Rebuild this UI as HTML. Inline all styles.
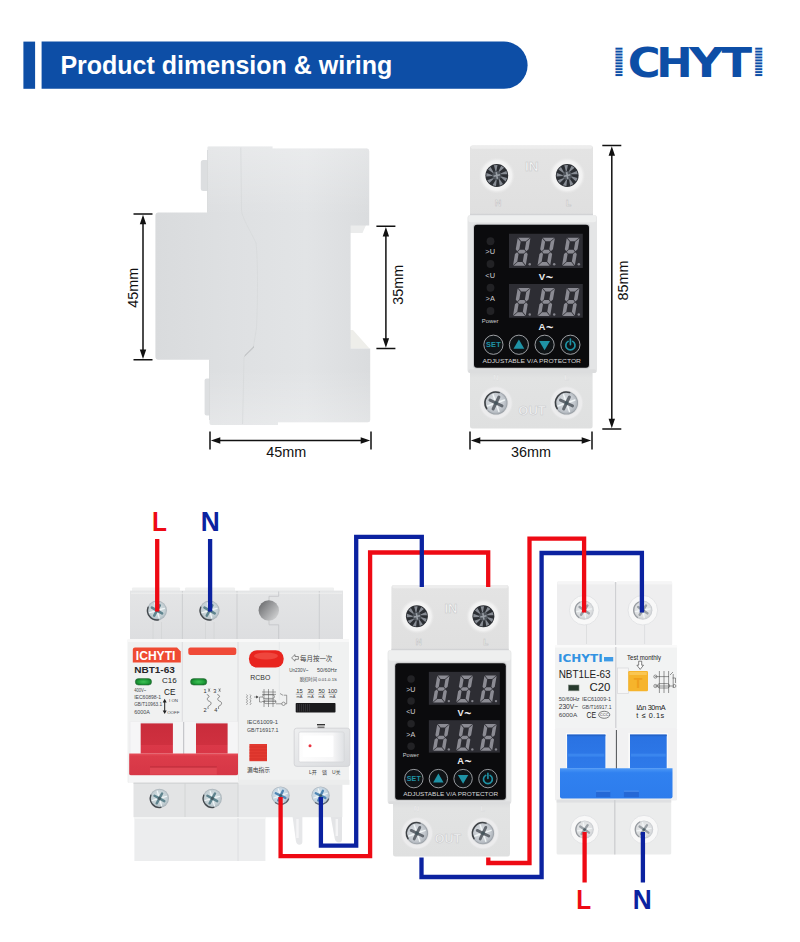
<!DOCTYPE html>
<html lang="en"><head><meta charset="utf-8"><title>Product dimension &amp; wiring</title>
<style>
html,body{margin:0;padding:0;background:#fff;}
body{width:800px;height:942px;overflow:hidden;position:relative;font-family:"Liberation Sans","Noto Sans CJK SC",sans-serif;}
svg{position:absolute;left:0;top:0;display:block;}
svg{font-family:"Liberation Sans","Noto Sans CJK SC",sans-serif;}
.b{font-weight:bold;}
.dj{font-family:"DejaVu Sans","Liberation Sans",sans-serif;font-weight:bold;}
.cjk{font-family:"Liberation Sans","Noto Sans CJK SC",sans-serif;}
</style></head><body>
<svg width="800" height="942" viewBox="0 0 800 942">
<defs>
<pattern id="stripes" x="0" y="47.7" width="12" height="2.93" patternUnits="userSpaceOnUse"><rect x="0" y="0" width="12" height="2.0" fill="#0d4ea6"/></pattern>
</defs>

<rect x="23.4" y="41.6" width="11.7" height="47.2" fill="#0d4ea6"/>
<path d="M41.6 41.6H504a23.6 23.6 0 0 1 0 47.2H41.6Z" fill="#0d4ea6"/>
<text x="60.4" y="74" font-size="25" class="b" fill="#fff">Product dimension &amp; wiring</text>
<text class="dj" font-size="40" y="77" fill="#0d4ea6"><tspan x="611.9" textLength="13.77" lengthAdjust="spacingAndGlyphs" fill="url(#stripes)">I</tspan><tspan x="627.76" textLength="32.88" lengthAdjust="spacingAndGlyphs" fill="#0d4ea6">C</tspan><tspan x="656.35" textLength="36.43" lengthAdjust="spacingAndGlyphs" fill="#0d4ea6">H</tspan><tspan x="689" textLength="34.97" lengthAdjust="spacingAndGlyphs" fill="#0d4ea6">Y</tspan><tspan x="721.4" textLength="30.52" lengthAdjust="spacingAndGlyphs" fill="#0d4ea6">T</tspan><tspan x="751.7" textLength="13.77" lengthAdjust="spacingAndGlyphs" fill="url(#stripes)">I</tspan></text>
<defs>
<linearGradient id="sv1" x1="0" y1="0" x2="1" y2="0"><stop offset="0" stop-color="#d9dbdd"/><stop offset="0.35" stop-color="#dee0e2"/><stop offset="0.7" stop-color="#e2e4e6"/><stop offset="1" stop-color="#dadcde"/></linearGradient>
<linearGradient id="sv2" x1="0" y1="0" x2="0" y2="1"><stop offset="0" stop-color="#fff" stop-opacity="0.28"/><stop offset="0.25" stop-color="#fff" stop-opacity="0"/><stop offset="0.8" stop-color="#fff" stop-opacity="0"/><stop offset="1" stop-color="#fff" stop-opacity="0.25"/></linearGradient>
</defs><rect x="200.8" y="160" width="8" height="31" rx="2.5" fill="#dcdee0"/><rect x="204.6" y="378.5" width="6" height="37" rx="2" fill="#dddfe1"/><path d="M350 224H366.5L362.5 233H350Z" fill="#ebecec"/><path d="M350 330L353 330L369.5 348.6H350Z" fill="#eeeeea"/><path d="M208.5 146.5H272.5V148.5H367Q369.2 148.5 369.2 151V225.5H350.6V348.6H370.2V420Q370.2 422.2 368 422.2H278V425H211.5Q209.5 425 209.5 423V359.8H158.4Q155.4 359.8 155.4 356.8V215.6Q155.4 212.6 158.4 212.6H207.5V147.5Q207.5 146.5 208.5 146.5Z" fill="url(#sv1)"/><path d="M208.5 146.5H272.5V148.5H367Q369.2 148.5 369.2 151V225.5H350.6V348.6H370.2V420Q370.2 422.2 368 422.2H278V425H211.5Q209.5 425 209.5 423V359.8H158.4Q155.4 359.8 155.4 356.8V215.6Q155.4 212.6 158.4 212.6H207.5V147.5Q207.5 146.5 208.5 146.5Z" fill="url(#sv2)"/><path d="M240.8 147.5L241.5 210C242 218 250 230 256 243C258 260 257.8 300 256.5 328L253 349L244 357L242.6 424" stroke="#d7d9db" stroke-width="0.8" fill="none" stroke-linejoin="round"/><path d="M244.5 356L254 346.6" stroke="#a9abad" stroke-width="0.8" fill="none"/><path d="M207.5 212.6V150M209.5 359.8V420" stroke="#d6d8d9" stroke-width="0.8" fill="none"/><g stroke="#111" stroke-width="1.5" fill="none"><path d="M133.5 214H152.5M133.5 359.8H152.5M143 220V353.8"/></g><path d="M143 214.8l-3.2 9.5h6.4ZM143 359.0l-3.2 -9.5h6.4Z" fill="#111"/><text transform="translate(138.2 287.7) rotate(-90)" font-size="15" text-anchor="middle" fill="#111" textLength="40" lengthAdjust="spacingAndGlyphs">45mm</text><g stroke="#111" stroke-width="1.5" fill="none"><path d="M376.4 226.3H395.4M376.4 348.6H395.4M385.9 232.3V342.6"/></g><path d="M385.9 227.10000000000002l-3.2 9.5h6.4ZM385.9 347.8l-3.2 -9.5h6.4Z" fill="#111"/><text transform="translate(402.6 284.65000000000003) rotate(-90)" font-size="15" text-anchor="middle" fill="#111" textLength="40" lengthAdjust="spacingAndGlyphs">35mm</text><g stroke="#111" stroke-width="1.5" fill="none"><path d="M210 431.5V449.5M371 431.5V449.5M216 440.5H365"/></g><path d="M210.8 440.5l9.5 -3.2v6.4ZM370.2 440.5l-9.5 -3.2v6.4Z" fill="#111"/><text x="286.3" y="457.3" font-size="15" text-anchor="middle" fill="#111" textLength="40" lengthAdjust="spacingAndGlyphs">45mm</text><g stroke="#111" stroke-width="1.5" fill="none"><path d="M470 431.5V449.5M592 431.5V449.5M476 440.5H586"/></g><path d="M470.8 440.5l9.5 -3.2v6.4ZM591.2 440.5l-9.5 -3.2v6.4Z" fill="#111"/><text x="531.0" y="457.2" font-size="15" text-anchor="middle" fill="#111" textLength="40" lengthAdjust="spacingAndGlyphs">36mm</text><g stroke="#111" stroke-width="1.5" fill="none"><path d="M602.3 145.5H621.3M602.3 429H621.3M611.8 151.5V423"/></g><path d="M611.8 146.3l-3.2 9.5h6.4ZM611.8 428.2l-3.2 -9.5h6.4Z" fill="#111"/><text transform="translate(628.2 280.55) rotate(-90)" font-size="15" text-anchor="middle" fill="#111" textLength="40" lengthAdjust="spacingAndGlyphs">85mm</text>
<defs>
<linearGradient id="pbody" x1="0" y1="0" x2="0" y2="1"><stop offset="0" stop-color="#e4e4e4"/><stop offset="1" stop-color="#dfdfdf"/></linearGradient>
<linearGradient id="pbody2" x1="0" y1="0" x2="0" y2="1"><stop offset="0" stop-color="#d9dadb"/><stop offset="0.15" stop-color="#e2e3e3"/><stop offset="1" stop-color="#dfe0e0"/></linearGradient>
<radialGradient id="collar"><stop offset="0.6" stop-color="#f5f5f5"/><stop offset="0.82" stop-color="#f1f1f1"/><stop offset="1" stop-color="#e6e6e6" stop-opacity="0"/></radialGradient>
<radialGradient id="metal" cx="0.45" cy="0.45" r="0.6"><stop offset="0" stop-color="#e3e7eb"/><stop offset="0.7" stop-color="#c3c8ce"/><stop offset="1" stop-color="#a7adb4"/></radialGradient>
<radialGradient id="collar2"><stop offset="0.62" stop-color="#d2d3d5"/><stop offset="0.74" stop-color="#ececed"/><stop offset="0.88" stop-color="#ececed"/><stop offset="1" stop-color="#e4e4e5" stop-opacity="0"/></radialGradient>
</defs>
<rect x="470" y="145.5" width="123" height="73.5" rx="2.5" fill="url(#pbody)"/><rect x="471" y="145.5" width="121" height="3.2" rx="1.5" fill="#ededed"/><rect x="470" y="369" width="122.60000000000002" height="59.5" rx="2.5" fill="url(#pbody2)"/><rect x="467.5" y="215" width="129.5" height="158" rx="3" fill="#e4e5e6"/><rect x="468.3" y="215" width="127.9" height="7.25" rx="2.5" fill="#eeefef"/><rect x="468.3" y="369.30" width="127.9" height="3.70" rx="2" fill="#dcddde"/><rect x="470" y="213.80" width="123" height="1.4" fill="#d2d3d5"/><rect x="473" y="223.75" width="117" height="145.05" rx="3.5" fill="#c9cacc"/><rect x="474" y="224.75" width="115" height="143.05" rx="3" fill="#0b0b0d"/><rect x="509.00" y="233.75" width="73.80" height="34.25" fill="#2d2d33"/><path transform="translate(517.75 237.65) skewX(-9.7)" d="M0.50 0.00L12.25 0.00L8.65 3.60L4.10 3.60ZM0.50 28.00L12.25 28.00L8.65 24.40L4.10 24.40ZM2.30 14.00L4.10 12.20L8.65 12.20L10.45 14.00L8.65 15.80L4.10 15.80ZM0.00 0.50L3.60 4.10L3.60 11.70L1.80 13.50L0.00 11.70ZM0.00 27.50L3.60 23.90L3.60 16.30L1.80 14.50L0.00 16.30ZM12.75 0.50L9.15 4.10L9.15 11.70L10.95 13.50L12.75 11.70ZM12.75 27.50L9.15 23.90L9.15 16.30L10.95 14.50L12.75 16.30Z" fill="#8b8b93"/><circle cx="529.75" cy="264.15" r="1.25" fill="#85858d"/><path transform="translate(542.20 237.65) skewX(-9.7)" d="M0.50 0.00L12.25 0.00L8.65 3.60L4.10 3.60ZM0.50 28.00L12.25 28.00L8.65 24.40L4.10 24.40ZM2.30 14.00L4.10 12.20L8.65 12.20L10.45 14.00L8.65 15.80L4.10 15.80ZM0.00 0.50L3.60 4.10L3.60 11.70L1.80 13.50L0.00 11.70ZM0.00 27.50L3.60 23.90L3.60 16.30L1.80 14.50L0.00 16.30ZM12.75 0.50L9.15 4.10L9.15 11.70L10.95 13.50L12.75 11.70ZM12.75 27.50L9.15 23.90L9.15 16.30L10.95 14.50L12.75 16.30Z" fill="#8b8b93"/><circle cx="554.20" cy="264.15" r="1.25" fill="#85858d"/><path transform="translate(566.80 237.65) skewX(-9.7)" d="M0.50 0.00L12.25 0.00L8.65 3.60L4.10 3.60ZM0.50 28.00L12.25 28.00L8.65 24.40L4.10 24.40ZM2.30 14.00L4.10 12.20L8.65 12.20L10.45 14.00L8.65 15.80L4.10 15.80ZM0.00 0.50L3.60 4.10L3.60 11.70L1.80 13.50L0.00 11.70ZM0.00 27.50L3.60 23.90L3.60 16.30L1.80 14.50L0.00 16.30ZM12.75 0.50L9.15 4.10L9.15 11.70L10.95 13.50L12.75 11.70ZM12.75 27.50L9.15 23.90L9.15 16.30L10.95 14.50L12.75 16.30Z" fill="#8b8b93"/><circle cx="578.80" cy="264.15" r="1.25" fill="#85858d"/><rect x="509.00" y="284.00" width="73.80" height="33.75" fill="#2d2d33"/><path transform="translate(517.75 287.90) skewX(-9.7)" d="M0.50 0.00L12.25 0.00L8.65 3.60L4.10 3.60ZM0.50 28.00L12.25 28.00L8.65 24.40L4.10 24.40ZM2.30 14.00L4.10 12.20L8.65 12.20L10.45 14.00L8.65 15.80L4.10 15.80ZM0.00 0.50L3.60 4.10L3.60 11.70L1.80 13.50L0.00 11.70ZM0.00 27.50L3.60 23.90L3.60 16.30L1.80 14.50L0.00 16.30ZM12.75 0.50L9.15 4.10L9.15 11.70L10.95 13.50L12.75 11.70ZM12.75 27.50L9.15 23.90L9.15 16.30L10.95 14.50L12.75 16.30Z" fill="#8b8b93"/><circle cx="529.75" cy="314.40" r="1.25" fill="#85858d"/><path transform="translate(542.20 287.90) skewX(-9.7)" d="M0.50 0.00L12.25 0.00L8.65 3.60L4.10 3.60ZM0.50 28.00L12.25 28.00L8.65 24.40L4.10 24.40ZM2.30 14.00L4.10 12.20L8.65 12.20L10.45 14.00L8.65 15.80L4.10 15.80ZM0.00 0.50L3.60 4.10L3.60 11.70L1.80 13.50L0.00 11.70ZM0.00 27.50L3.60 23.90L3.60 16.30L1.80 14.50L0.00 16.30ZM12.75 0.50L9.15 4.10L9.15 11.70L10.95 13.50L12.75 11.70ZM12.75 27.50L9.15 23.90L9.15 16.30L10.95 14.50L12.75 16.30Z" fill="#8b8b93"/><circle cx="554.20" cy="314.40" r="1.25" fill="#85858d"/><path transform="translate(566.80 287.90) skewX(-9.7)" d="M0.50 0.00L12.25 0.00L8.65 3.60L4.10 3.60ZM0.50 28.00L12.25 28.00L8.65 24.40L4.10 24.40ZM2.30 14.00L4.10 12.20L8.65 12.20L10.45 14.00L8.65 15.80L4.10 15.80ZM0.00 0.50L3.60 4.10L3.60 11.70L1.80 13.50L0.00 11.70ZM0.00 27.50L3.60 23.90L3.60 16.30L1.80 14.50L0.00 16.30ZM12.75 0.50L9.15 4.10L9.15 11.70L10.95 13.50L12.75 11.70ZM12.75 27.50L9.15 23.90L9.15 16.30L10.95 14.50L12.75 16.30Z" fill="#8b8b93"/><circle cx="578.80" cy="314.40" r="1.25" fill="#85858d"/><circle cx="490.50" cy="241.25" r="3.90" fill="#222225"/><text x="490.20" y="254.20" font-size="7.40" text-anchor="middle" fill="#cfcfd2">&gt;U</text><circle cx="490.50" cy="264.00" r="3.90" fill="#222225"/><text x="490.20" y="277.70" font-size="7.40" text-anchor="middle" fill="#cfcfd2">&lt;U</text><circle cx="490.50" cy="287.75" r="3.90" fill="#222225"/><text x="490.20" y="301.40" font-size="7.40" text-anchor="middle" fill="#cfcfd2">&gt;A</text><circle cx="490.50" cy="311.00" r="3.90" fill="#222225"/><text x="490.20" y="322.60" font-size="5.90" text-anchor="middle" fill="#cfcfd2">Power</text><text x="546.00" y="280.00" font-size="9.60" class="b" text-anchor="middle" fill="#ececee">V<tspan font-size="12.50" dx="0.60" dy="1.70">~</tspan></text><text x="546.00" y="330.00" font-size="9.60" class="b" text-anchor="middle" fill="#ececee">A<tspan font-size="12.50" dx="0.60" dy="1.70">~</tspan></text><circle cx="493.40" cy="344.75" r="9.60" fill="#0f1316" stroke="#a4a7ab" stroke-width="0.95"/><text x="493.40" y="347.35" font-size="7.40" class="b" text-anchor="middle" fill="#1f93a6" letter-spacing="0.2">SET</text><circle cx="518.90" cy="344.75" r="9.60" fill="#0f1316" stroke="#a4a7ab" stroke-width="0.95"/><path d="M518.90 339.55L524.30 348.75H513.50Z" fill="#1f93a6"/><circle cx="544.60" cy="344.75" r="9.60" fill="#0f1316" stroke="#a4a7ab" stroke-width="0.95"/><path d="M544.60 350.15L550.00 340.95H539.20Z" fill="#1f93a6"/><circle cx="570.40" cy="344.75" r="9.60" fill="#0f1316" stroke="#a4a7ab" stroke-width="0.95"/><path d="M572.70 341.37A4.60 4.60 0 1 1 568.10 341.37M570.40 339.15V344.55" stroke="#1f93a6" stroke-width="1.70" fill="none" stroke-linecap="round"/><text x="531.70" y="363.10" font-size="6.15" text-anchor="middle" fill="#d6d6d8" textLength="98.50" lengthAdjust="spacingAndGlyphs">ADJUSTABLE V/A PROTECTOR</text><circle cx="496.8" cy="175.5" r="18.24" fill="url(#collar)"/><circle cx="496.8" cy="175.5" r="11.40" fill="#2b2e33"/><path d="M500.82 176.32L507.07 178.12L505.61 181.40L500.58 177.10ZM499.36 178.71L502.98 184.11L499.76 185.68L498.67 179.15ZM496.70 179.60L496.00 186.07L492.52 185.20L495.88 179.50ZM494.08 178.58L489.39 183.08L487.29 180.18L493.53 177.97ZM492.74 176.11L486.25 176.55L486.50 172.97L492.70 175.29ZM493.30 173.36L488.04 169.52L490.54 166.94L493.79 172.71ZM495.50 171.61L493.94 165.29L497.50 164.92L496.29 171.43ZM498.30 171.68L501.17 165.84L504.14 167.85L499.03 172.05ZM500.41 173.54L506.36 170.91L507.34 174.36L500.72 174.29Z" fill="#878c94"/><circle cx="496.8" cy="175.5" r="4.56" fill="#50555c"/><path d="M496.23 172.08L497.37 178.92M493.61 176.18L499.99 174.82" stroke="#9aa0a7" stroke-width="1.60"/><circle cx="567.2" cy="175.5" r="18.24" fill="url(#collar)"/><circle cx="567.2" cy="175.5" r="11.40" fill="#2b2e33"/><path d="M571.22 176.32L577.47 178.12L576.01 181.40L570.98 177.10ZM569.76 178.71L573.38 184.11L570.16 185.68L569.07 179.15ZM567.10 179.60L566.40 186.07L562.92 185.20L566.28 179.50ZM564.48 178.58L559.79 183.08L557.69 180.18L563.93 177.97ZM563.14 176.11L556.65 176.55L556.90 172.97L563.10 175.29ZM563.70 173.36L558.44 169.52L560.94 166.94L564.19 172.71ZM565.90 171.61L564.34 165.29L567.90 164.92L566.69 171.43ZM568.70 171.68L571.57 165.84L574.54 167.85L569.43 172.05ZM570.81 173.54L576.76 170.91L577.74 174.36L571.12 174.29Z" fill="#878c94"/><circle cx="567.2" cy="175.5" r="4.56" fill="#50555c"/><path d="M566.63 172.08L567.77 178.92M564.01 176.18L570.39 174.82" stroke="#9aa0a7" stroke-width="1.60"/><circle cx="496" cy="403" r="17.25" fill="url(#collar2)"/><circle cx="496" cy="403" r="11.50" fill="#9da3a9"/><circle cx="496" cy="403" r="10.70" fill="url(#metal)"/><path d="M486.64 408.63A10.92 10.92 0 0 1 499.10 392.52" stroke="#2c2f33" stroke-width="1.61" fill="none" stroke-linecap="round" opacity="0.85"/><path d="M497.06 406.04L498.95 411.47M492.96 404.06L487.53 405.95M494.94 399.96L493.05 394.53M499.04 401.94L504.47 400.05" stroke="#f4f8fa" stroke-width="1.50" stroke-linecap="round" fill="none" opacity="0.9"/><path d="M496 403L502.01 405.90M496 403L493.10 409.01M496 403L489.99 400.10M496 403L498.90 396.99" stroke="#636970" stroke-width="2.99" stroke-linecap="round" fill="none"/><circle cx="496" cy="403" r="1.84" fill="#3d5058" opacity="0.8"/><circle cx="566.5" cy="403" r="17.25" fill="url(#collar2)"/><circle cx="566.5" cy="403" r="11.50" fill="#9da3a9"/><circle cx="566.5" cy="403" r="10.70" fill="url(#metal)"/><path d="M557.14 408.63A10.92 10.92 0 0 1 569.60 392.52" stroke="#2c2f33" stroke-width="1.61" fill="none" stroke-linecap="round" opacity="0.85"/><path d="M567.56 406.04L569.45 411.47M563.46 404.06L558.03 405.95M565.44 399.96L563.55 394.53M569.54 401.94L574.97 400.05" stroke="#f4f8fa" stroke-width="1.50" stroke-linecap="round" fill="none" opacity="0.9"/><path d="M566.5 403L572.51 405.90M566.5 403L563.60 409.01M566.5 403L560.49 400.10M566.5 403L569.40 396.99" stroke="#636970" stroke-width="2.99" stroke-linecap="round" fill="none"/><circle cx="566.5" cy="403" r="1.84" fill="#3d5058" opacity="0.8"/><text x="531.7" y="171.30" font-size="13.50" class="b" text-anchor="middle" fill="#f7f7f7" stroke="#c6c7c9" stroke-width="0.55">IN</text><text x="498" y="205.60" font-size="8.60" class="b" text-anchor="middle" fill="#f8f8f8" stroke="#bdbec0" stroke-width="0.5">N</text><text x="568.5" y="206.10" font-size="8.60" class="b" text-anchor="middle" fill="#f8f8f8" stroke="#bdbec0" stroke-width="0.5">L</text><text x="532" y="414.80" font-size="13.00" class="b" text-anchor="middle" fill="#f4f4f5" stroke="#c9cacc" stroke-width="0.55">OUT</text><text x="496" y="379.60" font-size="7.50" class="b" text-anchor="middle" fill="#f4f4f4" stroke="#d6d7d9" stroke-width="0.3">N</text><text x="566.5" y="379.60" font-size="7.50" class="b" text-anchor="middle" fill="#f4f4f4" stroke="#d6d7d9" stroke-width="0.3">L</text>
<defs>
<radialGradient id="metalB" cx="0.45" cy="0.45" r="0.6"><stop offset="0" stop-color="#e6eff6"/><stop offset="0.7" stop-color="#c3d3e0"/><stop offset="1" stop-color="#a5b4c2"/></radialGradient>
<radialGradient id="metalG" cx="0.5" cy="0.45" r="0.6"><stop offset="0" stop-color="#e2eaed"/><stop offset="0.7" stop-color="#c2ced3"/><stop offset="1" stop-color="#a3afb5"/></radialGradient>
<radialGradient id="metalW" cx="0.5" cy="0.45" r="0.6"><stop offset="0" stop-color="#f1f2f3"/><stop offset="0.7" stop-color="#dcdee0"/><stop offset="1" stop-color="#c4c7ca"/></radialGradient>
<linearGradient id="lbTerm" x1="0" y1="0" x2="0" y2="1"><stop offset="0" stop-color="#e4e5e6"/><stop offset="1" stop-color="#dddee0"/></linearGradient>
<linearGradient id="redH" x1="0" y1="0" x2="0" y2="1"><stop offset="0" stop-color="#c92c3b"/><stop offset="0.7" stop-color="#cf303f"/><stop offset="0.73" stop-color="#da3848"/><stop offset="1" stop-color="#d93646"/></linearGradient>
<linearGradient id="redB" x1="0" y1="0" x2="0" y2="1"><stop offset="0" stop-color="#e8505c"/><stop offset="0.12" stop-color="#dc3c4a"/><stop offset="1" stop-color="#d63646"/></linearGradient>
<linearGradient id="hole" x1="0.1" y1="0.1" x2="0.95" y2="0.8"><stop offset="0" stop-color="#6f7072"/><stop offset="0.45" stop-color="#9a9b9d"/><stop offset="1" stop-color="#cfd0d1"/></linearGradient>
<radialGradient id="grn"><stop offset="0" stop-color="#3fc257"/><stop offset="0.7" stop-color="#1e9c38"/><stop offset="1" stop-color="#157a2b"/></radialGradient>
<linearGradient id="rockO" x1="0" y1="0" x2="1" y2="1"><stop offset="0" stop-color="#eeeff0"/><stop offset="1" stop-color="#d9dbde"/></linearGradient>
<linearGradient id="rockI" x1="0" y1="0" x2="1" y2="0"><stop offset="0" stop-color="#fdfdfd"/><stop offset="0.75" stop-color="#f6f6f7"/><stop offset="1" stop-color="#dfe1e4"/></linearGradient>
<linearGradient id="blueH" x1="0" y1="0" x2="0" y2="1"><stop offset="0" stop-color="#2a72e2"/><stop offset="1" stop-color="#2e7aea"/></linearGradient>
<linearGradient id="blueB" x1="0" y1="0" x2="0" y2="1"><stop offset="0" stop-color="#4c98f6"/><stop offset="0.15" stop-color="#3081f0"/><stop offset="1" stop-color="#2d7cec"/></linearGradient>
</defs>
<rect x="132" y="587.6" width="48" height="5" rx="1" fill="#eff0f0"/><rect x="185" y="587.6" width="50" height="5" rx="1" fill="#eff0f0"/><rect x="249.5" y="587.6" width="84.5" height="5" rx="1" fill="#eff0f0"/><rect x="130" y="590.6" width="213" height="49" fill="url(#lbTerm)"/><path d="M182.4 591V639M237 591V639M319.3 591V639" stroke="#cbccce" stroke-width="0.9" fill="none"/><path d="M131 593.2H342" stroke="#eff0f0" stroke-width="1" fill="none"/><path d="M153 622V639M161.5 622V639M205.5 622V639M214 622V639" stroke="#d3d4d6" stroke-width="0.8" fill="none"/><circle cx="157" cy="610.5" r="10.00" fill="#aeb6bc"/><circle cx="157" cy="610.5" r="9.30" fill="url(#metalG)"/><path d="M158.61 619.86A9.50 9.50 0 0 1 148.10 607.17" stroke="#2f3438" stroke-width="1.40" fill="none" stroke-linecap="round" opacity="0.85"/><path d="M157.79 613.19L159.20 617.98M154.31 611.29L149.52 612.70M156.21 607.81L154.80 603.02M159.69 609.71L164.48 608.30" stroke="#f4f8fa" stroke-width="1.30" stroke-linecap="round" fill="none" opacity="0.9"/><path d="M157 610.5L162.09 613.28M157 610.5L154.22 615.59M157 610.5L151.91 607.72M157 610.5L159.78 605.41" stroke="#5f848e" stroke-width="2.60" stroke-linecap="round" fill="none"/><circle cx="157" cy="610.5" r="1.60" fill="#3d5058" opacity="0.8"/><circle cx="209.6" cy="610.5" r="10.00" fill="#aeb6bc"/><circle cx="209.6" cy="610.5" r="9.30" fill="url(#metalG)"/><path d="M211.21 619.86A9.50 9.50 0 0 1 200.70 607.17" stroke="#2f3438" stroke-width="1.40" fill="none" stroke-linecap="round" opacity="0.85"/><path d="M210.39 613.19L211.80 617.98M206.91 611.29L202.12 612.70M208.81 607.81L207.40 603.02M212.29 609.71L217.08 608.30" stroke="#f4f8fa" stroke-width="1.30" stroke-linecap="round" fill="none" opacity="0.9"/><path d="M209.6 610.5L214.69 613.28M209.6 610.5L206.82 615.59M209.6 610.5L204.51 607.72M209.6 610.5L212.38 605.41" stroke="#5f848e" stroke-width="2.60" stroke-linecap="round" fill="none"/><circle cx="209.6" cy="610.5" r="1.60" fill="#3d5058" opacity="0.8"/><path d="M278.7 591.5V596.3H269V601M269 620.5V624.8H278.7V639" stroke="#c3c4c6" stroke-width="0.8" fill="none"/><circle cx="268.8" cy="610.5" r="10.2" fill="url(#hole)"/><rect x="127.5" y="639" width="221.5" height="144" rx="1.5" fill="#f0f1f1"/><rect x="127.5" y="639" width="221.5" height="3" fill="#f8f8f8"/><path d="M182.3 642V722M238 642V783" stroke="#d9dadc" stroke-width="0.9" fill="none"/><path d="M279.3 642V700M319.3 642V650" stroke="#e3e4e5" stroke-width="0.7" fill="none"/><path d="M135 647.5H177L180.8 651.5V662.5H132.8V649.7Q132.8 647.5 135 647.5Z" fill="#ef4b33"/><text x="135.8" y="660.2" font-size="12" class="b" fill="#fff" textLength="39.6" lengthAdjust="spacingAndGlyphs">ICHYTI</text><rect x="188.3" y="647.5" width="48" height="7.5" rx="2" fill="#f04a38"/><text x="134.2" y="673.4" font-size="9.3" class="b" fill="#26262a" textLength="40.6" lengthAdjust="spacingAndGlyphs">NBT1-63</text><text x="162" y="682.9" font-size="8" fill="#222">C16</text><rect x="135.3" y="678.6" width="16.3" height="6.5" rx="3.25" fill="url(#grn)" stroke="#2c6b3a" stroke-width="0.5"/><rect x="190.5" y="678.6" width="16.3" height="6.5" rx="3.25" fill="url(#grn)" stroke="#2c6b3a" stroke-width="0.5"/><g font-size="5" fill="#43474c"><text x="134.2" y="691.7" textLength="12" lengthAdjust="spacingAndGlyphs">400V~</text><text x="134.2" y="699" textLength="27" lengthAdjust="spacingAndGlyphs">IEC60898-1</text><text x="134.2" y="706.2" textLength="27.8" lengthAdjust="spacingAndGlyphs">GB/T10963.1</text><text x="134.2" y="713.7" textLength="15.6" lengthAdjust="spacingAndGlyphs">6000A</text><text x="169" y="702.3" font-size="4.4">I ON</text><text x="167.2" y="713.7" font-size="4.4">OOFF</text></g><text x="164" y="694.6" font-size="9.6" fill="#222" textLength="11.4" lengthAdjust="spacingAndGlyphs">CE</text><path d="M164.7 701V712" stroke="#222" stroke-width="1"/><path d="M164.7 698.8l-2 3.6h4ZM164.7 714l-2 -3.6h4Z" fill="#222"/><g font-size="5.6" fill="#333"><text x="203.4" y="692.8">1</text><text x="213.2" y="692.8">3</text><text x="203.4" y="712.4">2</text><text x="214.2" y="712.4">4</text></g><path d="M208.3 688.5l1.6 3.2M209.9 688.5l-1.6 3.2M218.8 688.5l1.6 3.2M220.4 688.5l-1.6 3.2" stroke="#333" stroke-width="0.5"/><path d="M206.79999999999998 694.5q2 0.4 2.4 2.2c-3 1.5 -2 4 0 4.5c2.6 0.8 2.4 3.6 0 4.4c-1.6 0.6 -1.4 2 -1 3.4" stroke="#444" stroke-width="0.6" fill="none"/><path d="M217.29999999999998 694.5q2 0.4 2.4 2.2c-3 1.5 -2 4 0 4.5c2.6 0.8 2.4 3.6 0 4.4c-1.6 0.6 -1.4 2 -1 3.4" stroke="#444" stroke-width="0.6" fill="none"/><rect x="129.5" y="721.5" width="108.5" height="33" fill="#ececee"/><rect x="130.5" y="722" width="10" height="32" fill="#f6f6f7"/><rect x="173" y="722" width="10.2" height="32" fill="#f4f4f5"/><rect x="184.2" y="722" width="11.6" height="32" fill="#f4f4f5"/><rect x="227.6" y="722" width="10" height="32" fill="#f5f5f6"/><path d="M183.7 722V754" stroke="#b9babd" stroke-width="0.9"/><rect x="140.7" y="723.4" width="32.2" height="30.2" fill="url(#redH)"/><rect x="196" y="723.4" width="31.6" height="30.2" fill="url(#redH)"/><path d="M129.2 753.5H238V773.4Q238 775.4 236 775.4H131.2Q129.2 775.4 129.2 773.4Z" fill="url(#redB)"/><rect x="150" y="767" width="66.8" height="7.6" fill="#e04653"/><path d="M150 767H216.8" stroke="#b92a39" stroke-width="1"/><rect x="129" y="775.4" width="109" height="7.6" fill="#f5f5f6"/><rect x="249" y="650.2" width="34.6" height="17.4" rx="8" fill="#e8251f"/><ellipse cx="266" cy="656" rx="12" ry="3.4" fill="#f2544a" opacity="0.7"/><text x="250.3" y="679.9" font-size="7.3" fill="#333" textLength="20" lengthAdjust="spacingAndGlyphs">RCBO</text><path d="M291.6 657.9l3.4 -3.3v1.9h3.4v2.8h-3.4v1.9Z" fill="none" stroke="#444" stroke-width="0.6"/><text x="300" y="660.6" font-size="6.6" fill="#444" class="cjk" textLength="32.3" lengthAdjust="spacingAndGlyphs">每月按一次</text><g font-size="4.5" fill="#43474c"><text x="289.3" y="671.8" textLength="19" lengthAdjust="spacingAndGlyphs">Un230V~</text><text x="317" y="671.8" textLength="20" lengthAdjust="spacingAndGlyphs">50/60Hz</text><text x="299.7" y="681" font-size="4.2" class="cjk" textLength="37.3" lengthAdjust="spacingAndGlyphs">脱扣时间 0.01-0.1S</text></g><text x="299.4" y="693.4" font-size="5.8" fill="#333" text-anchor="middle" letter-spacing="-0.2">15</text><text x="299.4" y="698" font-size="4" fill="#444" text-anchor="middle">mA</text><path d="M295.79999999999995 694.2H303.0" stroke="#555" stroke-width="0.4"/><text x="310.6" y="693.4" font-size="5.8" fill="#333" text-anchor="middle" letter-spacing="-0.2">30</text><text x="310.6" y="698" font-size="4" fill="#444" text-anchor="middle">mA</text><path d="M307.0 694.2H314.20000000000005" stroke="#555" stroke-width="0.4"/><text x="321.6" y="693.4" font-size="5.8" fill="#333" text-anchor="middle" letter-spacing="-0.2">50</text><text x="321.6" y="698" font-size="4" fill="#444" text-anchor="middle">mA</text><path d="M318.0 694.2H325.20000000000005" stroke="#555" stroke-width="0.4"/><text x="332.4" y="693.4" font-size="5.8" fill="#333" text-anchor="middle" letter-spacing="-0.2">100</text><text x="332.4" y="698" font-size="4" fill="#444" text-anchor="middle">mA</text><path d="M328.79999999999995 694.2H336.0" stroke="#555" stroke-width="0.4"/><rect x="295.7" y="703" width="39.8" height="9.5" rx="0.8" fill="#1a1a1c"/><path d="M297.5 704V711.5M299.5 704V711.5M301.5 704V711.5M303.5 704V711.5M305.5 704V711.5M307.5 704V711.5M309.5 704V711.5" stroke="#3a3a3e" stroke-width="0.7"/><g stroke="#555" stroke-width="0.55" fill="none"><path d="M246.5 694.5q2 1.2 0 2.6q2 1.2 0 2.6q2 1.2 0 2.6q2 1.2 0 2.6M250 694.5q2 1.2 0 2.6q2 1.2 0 2.6q2 1.2 0 2.6q2 1.2 0 2.6"/><path d="M254 697h2.5M262 692h14M262 694.4h14M264 689v18M268.5 689v18M273 689v18M262 701.5h14M262 697h-2.5v5h2.5"/><rect x="262.5" y="694.8" width="12" height="3.6" rx="1.8"/><rect x="264" y="700" width="12" height="3.6" rx="1.8"/><circle cx="283.5" cy="703.8" r="1.7"/><path d="M276 703.8h5.8M285.2 703.8h1.5v-8.6h-3M280 693.5l3 1.8"/></g><path d="M258.6 697l-2.4 -1.5v3Z" fill="#333"/><g font-size="4.7" fill="#43474c"><text x="247" y="724.4" textLength="31" lengthAdjust="spacingAndGlyphs">IEC61009-1</text><text x="247" y="731.6" textLength="31.5" lengthAdjust="spacingAndGlyphs">GB/T16917.1</text></g><rect x="249.4" y="744" width="17.6" height="17.2" fill="#e23a30"/><path d="M249.4 747H267M249.4 750H267M249.4 753H267M249.4 756H267M249.4 759H267" stroke="#d22f27" stroke-width="0.7"/><text x="247" y="771.6" font-size="5.8" fill="#444" class="cjk" textLength="23" lengthAdjust="spacingAndGlyphs">漏电指示</text><rect x="294.2" y="728.2" width="55.6" height="38.2" rx="2.5" fill="url(#rockO)" stroke="#cfd1d4" stroke-width="0.8"/><rect x="298.8" y="732" width="45.4" height="30" rx="1.5" fill="url(#rockI)" stroke="#d4d6d9" stroke-width="0.7"/><rect x="302.5" y="735.5" width="31" height="21.5" rx="1" fill="#ffffff" opacity="0.9"/><circle cx="310" cy="745.8" r="1.5" fill="#ea3340"/><rect x="317" y="724" width="8" height="1.4" fill="#333"/><rect x="317.5" y="726.5" width="7" height="1.6" fill="#777"/><g font-size="5" fill="#444" class="cjk"><text x="309" y="774">L开</text><text x="322" y="774">锁</text><text x="332" y="774">U关</text></g><rect x="133.5" y="782.6" width="104.5" height="34.6" fill="#e3e4e5"/><rect x="238" y="782" width="104.4" height="35.2" fill="#e7e8e9"/><rect x="238" y="779.8" width="111.5" height="5" fill="#eceded"/><path d="M185 783V817M238 783V817" stroke="#cfd0d2" stroke-width="0.8"/><path d="M133.5 783.2H238" stroke="#d0d1d3" stroke-width="1"/><circle cx="159.4" cy="798.4" r="9.60" fill="#aeb6bc"/><circle cx="159.4" cy="798.4" r="8.93" fill="url(#metalG)"/><path d="M160.95 807.39A9.12 9.12 0 0 1 150.86 795.20" stroke="#2f3438" stroke-width="1.34" fill="none" stroke-linecap="round" opacity="0.85"/><path d="M160.16 800.98L161.51 805.59M156.82 799.16L152.21 800.51M158.64 795.82L157.29 791.21M161.98 797.64L166.59 796.29" stroke="#f4f8fa" stroke-width="1.25" stroke-linecap="round" fill="none" opacity="0.9"/><path d="M159.4 798.4L164.29 801.07M159.4 798.4L156.73 803.29M159.4 798.4L154.51 795.73M159.4 798.4L162.07 793.51" stroke="#5f848e" stroke-width="2.50" stroke-linecap="round" fill="none"/><circle cx="159.4" cy="798.4" r="1.54" fill="#3d5058" opacity="0.8"/><circle cx="212.3" cy="798.4" r="9.60" fill="#aeb6bc"/><circle cx="212.3" cy="798.4" r="8.93" fill="url(#metalG)"/><path d="M213.85 807.39A9.12 9.12 0 0 1 203.76 795.20" stroke="#2f3438" stroke-width="1.34" fill="none" stroke-linecap="round" opacity="0.85"/><path d="M213.06 800.98L214.41 805.59M209.72 799.16L205.11 800.51M211.54 795.82L210.19 791.21M214.88 797.64L219.49 796.29" stroke="#f4f8fa" stroke-width="1.25" stroke-linecap="round" fill="none" opacity="0.9"/><path d="M212.3 798.4L217.19 801.07M212.3 798.4L209.63 803.29M212.3 798.4L207.41 795.73M212.3 798.4L214.97 793.51" stroke="#5f848e" stroke-width="2.50" stroke-linecap="round" fill="none"/><circle cx="212.3" cy="798.4" r="1.54" fill="#3d5058" opacity="0.8"/><circle cx="280.6" cy="795.6" r="9.20" fill="#aeb6bc"/><circle cx="280.6" cy="795.6" r="8.56" fill="url(#metalB)"/><path d="M288.65 799.00A8.74 8.74 0 0 1 275.46 802.67" stroke="#4a5560" stroke-width="1.29" fill="none" stroke-linecap="round" opacity="0.85"/><path d="M281.45 798.03L282.96 802.38M278.17 796.45L273.82 797.96M279.75 793.17L278.24 788.82M283.03 794.75L287.38 793.24" stroke="#f4f8fa" stroke-width="1.20" stroke-linecap="round" fill="none" opacity="0.9"/><path d="M280.6 795.6L285.40 797.92M280.6 795.6L278.28 800.40M280.6 795.6L275.80 793.28M280.6 795.6L282.92 790.80" stroke="#4f86b4" stroke-width="2.39" stroke-linecap="round" fill="none"/><circle cx="280.6" cy="795.6" r="1.47" fill="#3d5058" opacity="0.8"/><circle cx="320.6" cy="795.6" r="9.20" fill="#aeb6bc"/><circle cx="320.6" cy="795.6" r="8.56" fill="url(#metalB)"/><path d="M328.65 799.00A8.74 8.74 0 0 1 315.46 802.67" stroke="#4a5560" stroke-width="1.29" fill="none" stroke-linecap="round" opacity="0.85"/><path d="M321.45 798.03L322.96 802.38M318.17 796.45L313.82 797.96M319.75 793.17L318.24 788.82M323.03 794.75L327.38 793.24" stroke="#f4f8fa" stroke-width="1.20" stroke-linecap="round" fill="none" opacity="0.9"/><path d="M320.6 795.6L325.40 797.92M320.6 795.6L318.28 800.40M320.6 795.6L315.80 793.28M320.6 795.6L322.92 790.80" stroke="#4f86b4" stroke-width="2.39" stroke-linecap="round" fill="none"/><circle cx="320.6" cy="795.6" r="1.47" fill="#3d5058" opacity="0.8"/><rect x="134.4" y="817" width="131" height="44" fill="#ecedee"/><path d="M134.4 818H265.4" stroke="#f6f6f6" stroke-width="1.6"/><path d="M238 818V861" stroke="#dcdddf" stroke-width="0.9"/><path d="M292.6 817H302.4V841.5Q302.4 844.8 299.3 844.8Q296.6 844.8 295.9 841Z" fill="#e6e7e9"/><path d="M330.8 817H342V839.5Q342 842.4 339 842.4Q335.6 842.4 334.8 839Z" fill="#e3e4e6"/><path d="M297.5 819V838M336.8 819V836" stroke="#f4f4f5" stroke-width="2.4"/>
<rect x="391.4" y="585" width="117.35000000000002" height="69" rx="2.5" fill="url(#pbody)"/><rect x="392.4" y="585" width="115.35000000000002" height="3.2" rx="1.5" fill="#ededed"/><rect x="393" y="800" width="117" height="56.5" rx="2.5" fill="url(#pbody2)"/><rect x="387.6" y="650" width="123.79999999999995" height="154" rx="3" fill="#e4e5e6"/><rect x="388.40000000000003" y="650" width="122.19999999999996" height="10.70" rx="2.5" fill="#eeefef"/><rect x="388.40000000000003" y="801.30" width="122.19999999999996" height="2.70" rx="2" fill="#dcddde"/><rect x="391.4" y="648.80" width="117.35000000000002" height="1.4" fill="#d2d3d5"/><rect x="394.2" y="662.2" width="112.60000000000002" height="138.5999999999999" rx="3.5" fill="#c9cacc"/><rect x="395.2" y="663.2" width="110.60000000000002" height="136.5999999999999" rx="3" fill="#0b0b0d"/><rect x="428.86" y="671.86" width="70.98" height="32.94" fill="#2d2d33"/><path transform="translate(437.28 675.61) skewX(-9.7)" d="M0.48 0.00L11.78 0.00L8.32 3.46L3.95 3.46ZM0.48 26.93L11.78 26.93L8.32 23.47L3.95 23.47ZM2.22 13.46L3.95 11.73L8.32 11.73L10.05 13.46L8.32 15.20L3.95 15.20ZM0.00 0.48L3.46 3.95L3.46 11.25L1.73 12.98L0.00 11.25ZM0.00 26.44L3.46 22.98L3.46 15.68L1.73 13.95L0.00 15.68ZM12.26 0.48L8.80 3.95L8.80 11.25L10.53 12.98L12.26 11.25ZM12.26 26.44L8.80 22.98L8.80 15.68L10.53 13.95L12.26 15.68Z" fill="#8b8b93"/><circle cx="448.82" cy="701.09" r="1.20" fill="#85858d"/><path transform="translate(460.79 675.61) skewX(-9.7)" d="M0.48 0.00L11.78 0.00L8.32 3.46L3.95 3.46ZM0.48 26.93L11.78 26.93L8.32 23.47L3.95 23.47ZM2.22 13.46L3.95 11.73L8.32 11.73L10.05 13.46L8.32 15.20L3.95 15.20ZM0.00 0.48L3.46 3.95L3.46 11.25L1.73 12.98L0.00 11.25ZM0.00 26.44L3.46 22.98L3.46 15.68L1.73 13.95L0.00 15.68ZM12.26 0.48L8.80 3.95L8.80 11.25L10.53 12.98L12.26 11.25ZM12.26 26.44L8.80 22.98L8.80 15.68L10.53 13.95L12.26 15.68Z" fill="#8b8b93"/><circle cx="472.33" cy="701.09" r="1.20" fill="#85858d"/><path transform="translate(484.45 675.61) skewX(-9.7)" d="M0.48 0.00L11.78 0.00L8.32 3.46L3.95 3.46ZM0.48 26.93L11.78 26.93L8.32 23.47L3.95 23.47ZM2.22 13.46L3.95 11.73L8.32 11.73L10.05 13.46L8.32 15.20L3.95 15.20ZM0.00 0.48L3.46 3.95L3.46 11.25L1.73 12.98L0.00 11.25ZM0.00 26.44L3.46 22.98L3.46 15.68L1.73 13.95L0.00 15.68ZM12.26 0.48L8.80 3.95L8.80 11.25L10.53 12.98L12.26 11.25ZM12.26 26.44L8.80 22.98L8.80 15.68L10.53 13.95L12.26 15.68Z" fill="#8b8b93"/><circle cx="495.99" cy="701.09" r="1.20" fill="#85858d"/><rect x="428.86" y="720.18" width="70.98" height="32.46" fill="#2d2d33"/><path transform="translate(437.28 723.93) skewX(-9.7)" d="M0.48 0.00L11.78 0.00L8.32 3.46L3.95 3.46ZM0.48 26.93L11.78 26.93L8.32 23.47L3.95 23.47ZM2.22 13.46L3.95 11.73L8.32 11.73L10.05 13.46L8.32 15.20L3.95 15.20ZM0.00 0.48L3.46 3.95L3.46 11.25L1.73 12.98L0.00 11.25ZM0.00 26.44L3.46 22.98L3.46 15.68L1.73 13.95L0.00 15.68ZM12.26 0.48L8.80 3.95L8.80 11.25L10.53 12.98L12.26 11.25ZM12.26 26.44L8.80 22.98L8.80 15.68L10.53 13.95L12.26 15.68Z" fill="#8b8b93"/><circle cx="448.82" cy="749.42" r="1.20" fill="#85858d"/><path transform="translate(460.79 723.93) skewX(-9.7)" d="M0.48 0.00L11.78 0.00L8.32 3.46L3.95 3.46ZM0.48 26.93L11.78 26.93L8.32 23.47L3.95 23.47ZM2.22 13.46L3.95 11.73L8.32 11.73L10.05 13.46L8.32 15.20L3.95 15.20ZM0.00 0.48L3.46 3.95L3.46 11.25L1.73 12.98L0.00 11.25ZM0.00 26.44L3.46 22.98L3.46 15.68L1.73 13.95L0.00 15.68ZM12.26 0.48L8.80 3.95L8.80 11.25L10.53 12.98L12.26 11.25ZM12.26 26.44L8.80 22.98L8.80 15.68L10.53 13.95L12.26 15.68Z" fill="#8b8b93"/><circle cx="472.33" cy="749.42" r="1.20" fill="#85858d"/><path transform="translate(484.45 723.93) skewX(-9.7)" d="M0.48 0.00L11.78 0.00L8.32 3.46L3.95 3.46ZM0.48 26.93L11.78 26.93L8.32 23.47L3.95 23.47ZM2.22 13.46L3.95 11.73L8.32 11.73L10.05 13.46L8.32 15.20L3.95 15.20ZM0.00 0.48L3.46 3.95L3.46 11.25L1.73 12.98L0.00 11.25ZM0.00 26.44L3.46 22.98L3.46 15.68L1.73 13.95L0.00 15.68ZM12.26 0.48L8.80 3.95L8.80 11.25L10.53 12.98L12.26 11.25ZM12.26 26.44L8.80 22.98L8.80 15.68L10.53 13.95L12.26 15.68Z" fill="#8b8b93"/><circle cx="495.99" cy="749.42" r="1.20" fill="#85858d"/><circle cx="411.07" cy="679.07" r="3.75" fill="#222225"/><text x="410.78" y="691.52" font-size="7.12" text-anchor="middle" fill="#cfcfd2">&gt;U</text><circle cx="411.07" cy="700.95" r="3.75" fill="#222225"/><text x="410.78" y="714.12" font-size="7.12" text-anchor="middle" fill="#cfcfd2">&lt;U</text><circle cx="411.07" cy="723.79" r="3.75" fill="#222225"/><text x="410.78" y="736.92" font-size="7.12" text-anchor="middle" fill="#cfcfd2">&gt;A</text><circle cx="411.07" cy="746.15" r="3.75" fill="#222225"/><text x="410.78" y="757.31" font-size="5.67" text-anchor="middle" fill="#cfcfd2">Power</text><text x="464.45" y="716.34" font-size="9.23" class="b" text-anchor="middle" fill="#ececee">V<tspan font-size="12.02" dx="0.58" dy="1.63">~</tspan></text><text x="464.45" y="764.42" font-size="9.23" class="b" text-anchor="middle" fill="#ececee">A<tspan font-size="12.02" dx="0.58" dy="1.63">~</tspan></text><circle cx="413.86" cy="778.61" r="9.23" fill="#0f1316" stroke="#a4a7ab" stroke-width="0.91"/><text x="413.86" y="781.11" font-size="7.12" class="b" text-anchor="middle" fill="#1f93a6" letter-spacing="0.2">SET</text><circle cx="438.38" cy="778.61" r="9.23" fill="#0f1316" stroke="#a4a7ab" stroke-width="0.91"/><path d="M438.38 773.61L443.58 782.46H433.19Z" fill="#1f93a6"/><circle cx="463.10" cy="778.61" r="9.23" fill="#0f1316" stroke="#a4a7ab" stroke-width="0.91"/><path d="M463.10 783.80L468.29 774.95H457.91Z" fill="#1f93a6"/><circle cx="487.91" cy="778.61" r="9.23" fill="#0f1316" stroke="#a4a7ab" stroke-width="0.91"/><path d="M490.12 775.35A4.42 4.42 0 1 1 485.70 775.35M487.91 773.22V778.42" stroke="#1f93a6" stroke-width="1.63" fill="none" stroke-linecap="round"/><text x="450.69" y="796.26" font-size="5.91" text-anchor="middle" fill="#d6d6d8" textLength="94.73" lengthAdjust="spacingAndGlyphs">ADJUSTABLE V/A PROTECTOR</text><circle cx="416.9" cy="616.3" r="17.54" fill="url(#collar)"/><circle cx="416.9" cy="616.3" r="10.96" fill="#2b2e33"/><path d="M420.77 617.08L426.78 618.82L425.37 621.97L420.54 617.84ZM419.36 619.39L422.85 624.58L419.74 626.09L418.70 619.81ZM416.80 620.25L416.13 626.47L412.78 625.63L416.02 620.15ZM414.29 619.26L409.78 623.59L407.75 620.80L413.75 618.68ZM413.00 616.89L406.75 617.31L407.00 613.87L412.96 616.10ZM413.53 614.24L408.48 610.55L410.88 608.07L414.01 613.61ZM415.64 612.56L414.14 606.48L417.58 606.13L416.41 612.38ZM418.34 612.63L421.10 607.01L423.96 608.94L419.04 612.99ZM420.37 614.41L426.09 611.88L427.04 615.20L420.67 615.14Z" fill="#878c94"/><circle cx="416.9" cy="616.3" r="4.39" fill="#50555c"/><path d="M416.35 613.01L417.45 619.59M413.83 616.96L419.97 615.64" stroke="#9aa0a7" stroke-width="1.53"/><circle cx="483.4" cy="616.3" r="17.54" fill="url(#collar)"/><circle cx="483.4" cy="616.3" r="10.96" fill="#2b2e33"/><path d="M487.27 617.08L493.28 618.82L491.87 621.97L487.04 617.84ZM485.86 619.39L489.35 624.58L486.24 626.09L485.20 619.81ZM483.30 620.25L482.63 626.47L479.28 625.63L482.52 620.15ZM480.79 619.26L476.28 623.59L474.25 620.80L480.25 618.68ZM479.50 616.89L473.25 617.31L473.50 613.87L479.46 616.10ZM480.03 614.24L474.98 610.55L477.38 608.07L480.51 613.61ZM482.14 612.56L480.64 606.48L484.08 606.13L482.91 612.38ZM484.84 612.63L487.60 607.01L490.46 608.94L485.54 612.99ZM486.87 614.41L492.59 611.88L493.54 615.20L487.17 615.14Z" fill="#878c94"/><circle cx="483.4" cy="616.3" r="4.39" fill="#50555c"/><path d="M482.85 613.01L483.95 619.59M480.33 616.96L486.47 615.64" stroke="#9aa0a7" stroke-width="1.53"/><circle cx="417" cy="833.2" r="16.59" fill="url(#collar2)"/><circle cx="417" cy="833.2" r="11.06" fill="#9da3a9"/><circle cx="417" cy="833.2" r="10.29" fill="url(#metal)"/><path d="M408.00 838.62A10.51 10.51 0 0 1 419.98 823.12" stroke="#2c2f33" stroke-width="1.55" fill="none" stroke-linecap="round" opacity="0.85"/><path d="M418.02 836.12L419.84 841.35M414.08 834.22L408.85 836.04M415.98 830.28L414.16 825.05M419.92 832.18L425.15 830.36" stroke="#f4f8fa" stroke-width="1.44" stroke-linecap="round" fill="none" opacity="0.9"/><path d="M417 833.2L422.78 835.99M417 833.2L414.21 838.98M417 833.2L411.22 830.41M417 833.2L419.79 827.42" stroke="#636970" stroke-width="2.88" stroke-linecap="round" fill="none"/><circle cx="417" cy="833.2" r="1.77" fill="#3d5058" opacity="0.8"/><circle cx="483" cy="833.2" r="16.59" fill="url(#collar2)"/><circle cx="483" cy="833.2" r="11.06" fill="#9da3a9"/><circle cx="483" cy="833.2" r="10.29" fill="url(#metal)"/><path d="M474.00 838.62A10.51 10.51 0 0 1 485.98 823.12" stroke="#2c2f33" stroke-width="1.55" fill="none" stroke-linecap="round" opacity="0.85"/><path d="M484.02 836.12L485.84 841.35M480.08 834.22L474.85 836.04M481.98 830.28L480.16 825.05M485.92 832.18L491.15 830.36" stroke="#f4f8fa" stroke-width="1.44" stroke-linecap="round" fill="none" opacity="0.9"/><path d="M483 833.2L488.78 835.99M483 833.2L480.21 838.98M483 833.2L477.22 830.41M483 833.2L485.79 827.42" stroke="#636970" stroke-width="2.88" stroke-linecap="round" fill="none"/><circle cx="483" cy="833.2" r="1.77" fill="#3d5058" opacity="0.8"/><text x="451" y="613.42" font-size="12.98" class="b" text-anchor="middle" fill="#f7f7f7" stroke="#c6c7c9" stroke-width="0.55">IN</text><text x="418.75" y="644.58" font-size="8.27" class="b" text-anchor="middle" fill="#f8f8f8" stroke="#bdbec0" stroke-width="0.5">N</text><text x="485.7" y="644.58" font-size="8.27" class="b" text-anchor="middle" fill="#f8f8f8" stroke="#bdbec0" stroke-width="0.5">L</text><text x="448" y="843.12" font-size="12.50" class="b" text-anchor="middle" fill="#f4f4f5" stroke="#c9cacc" stroke-width="0.55">OUT</text><text x="416.5" y="811.00" font-size="7.21" class="b" text-anchor="middle" fill="#f4f4f4" stroke="#d6d7d9" stroke-width="0.3">N</text><text x="482.7" y="811.00" font-size="7.21" class="b" text-anchor="middle" fill="#f4f4f4" stroke="#d6d7d9" stroke-width="0.3">L</text>
<rect x="557" y="581.4" width="57.8" height="64" rx="1.5" fill="#eeeeef"/><rect x="616.4" y="581.4" width="55.8" height="64" rx="1.5" fill="#eeeeef"/><rect x="557.5" y="581.4" width="56.8" height="3" fill="#f5f5f6"/><rect x="617" y="581.4" width="55" height="3" fill="#f5f5f6"/><path d="M615.6 582V645" stroke="#cfd0d3" stroke-width="1.4"/><path d="M586.5 625V644M644.6 625V644" stroke="#d9dadc" stroke-width="0.8"/><circle cx="584.2" cy="610.2" r="14.80" fill="#f8f8f8" stroke="#e1e2e4" stroke-width="0.9"/><circle cx="584.2" cy="610.2" r="9.60" fill="#c9ccd0"/><circle cx="584.2" cy="610.2" r="8.93" fill="url(#metalW)"/><path d="M578.83 617.57A9.12 9.12 0 0 1 579.73 602.25" stroke="#8d9298" stroke-width="1.34" fill="none" stroke-linecap="round" opacity="0.85"/><path d="M584.70 612.84L585.58 617.56M581.56 610.70L576.84 611.58M583.70 607.56L582.82 602.84M586.84 609.70L591.56 608.82" stroke="#f4f8fa" stroke-width="1.25" stroke-linecap="round" fill="none" opacity="0.9"/><path d="M584.2 610.2L588.80 613.34M584.2 610.2L581.06 614.80M584.2 610.2L579.60 607.06M584.2 610.2L587.34 605.60" stroke="#9aa0a6" stroke-width="2.50" stroke-linecap="round" fill="none"/><circle cx="584.2" cy="610.2" r="1.54" fill="#3d5058" opacity="0.8"/><circle cx="642.8" cy="610.2" r="14.80" fill="#f8f8f8" stroke="#e1e2e4" stroke-width="0.9"/><circle cx="642.8" cy="610.2" r="9.60" fill="#c9ccd0"/><circle cx="642.8" cy="610.2" r="8.93" fill="url(#metalW)"/><path d="M637.43 617.57A9.12 9.12 0 0 1 638.33 602.25" stroke="#8d9298" stroke-width="1.34" fill="none" stroke-linecap="round" opacity="0.85"/><path d="M643.30 612.84L644.18 617.56M640.16 610.70L635.44 611.58M642.30 607.56L641.42 602.84M645.44 609.70L650.16 608.82" stroke="#f4f8fa" stroke-width="1.25" stroke-linecap="round" fill="none" opacity="0.9"/><path d="M642.8 610.2L647.40 613.34M642.8 610.2L639.66 614.80M642.8 610.2L638.20 607.06M642.8 610.2L645.94 605.60" stroke="#9aa0a6" stroke-width="2.50" stroke-linecap="round" fill="none"/><circle cx="642.8" cy="610.2" r="1.54" fill="#3d5058" opacity="0.8"/><rect x="555" y="645" width="122" height="84" rx="1.5" fill="#f2f3f3"/><rect x="555" y="645" width="122" height="2.6" fill="#fafafa"/><path d="M615.8 647V729" stroke="#cdced1" stroke-width="1.2"/><text x="558" y="662.2" font-size="10.6" class="dj" fill="#3293e2" textLength="44.6" lengthAdjust="spacingAndGlyphs">ICHYTI</text><rect x="604" y="657" width="9.2" height="4.4" fill="#3f9be6"/><text x="558.7" y="677.6" font-size="10.2" fill="#222" textLength="51.8" lengthAdjust="spacingAndGlyphs">NBT1LE-63</text><text x="589.4" y="691.2" font-size="11.6" fill="#222" textLength="21" lengthAdjust="spacingAndGlyphs">C20</text><rect x="568.4" y="685" width="10.6" height="5.8" fill="#26392c" stroke="#7f8a82" stroke-width="0.6"/><g font-size="5.2" fill="#3f4348"><text x="558.7" y="701.4" textLength="21" lengthAdjust="spacingAndGlyphs">50/60Hz</text><text x="582" y="701.4" textLength="29" lengthAdjust="spacingAndGlyphs">IEC61009-1</text><text x="558.7" y="709" font-size="6.4" textLength="19.5" lengthAdjust="spacingAndGlyphs" fill="#333">230V~</text><text x="582" y="708.6" font-size="4.8" textLength="29.4" lengthAdjust="spacingAndGlyphs">GB/T16917.1</text><text x="558.7" y="717.2" textLength="18.5" lengthAdjust="spacingAndGlyphs">6000A</text></g><text x="586.6" y="718" font-size="8.2" fill="#222" textLength="9.6" lengthAdjust="spacingAndGlyphs">CE</text><ellipse cx="604.2" cy="714.8" rx="5.6" ry="3.5" fill="none" stroke="#333" stroke-width="0.6"/><text x="604.2" y="716.3" font-size="4" text-anchor="middle" fill="#333">CCC</text><text x="644" y="659.6" font-size="6.6" fill="#222" text-anchor="middle" textLength="34" lengthAdjust="spacingAndGlyphs">Test monthly</text><path d="M638.7 661.2h3v4h1.8l-3.3 4.2l-3.3 -4.2h1.8Z" fill="#fff" stroke="#333" stroke-width="0.6"/><rect x="617.4" y="668" width="11" height="25.4" fill="#f6f6f6" stroke="#d7d8da" stroke-width="0.7"/><rect x="628.2" y="671" width="19.8" height="20.3" rx="1.2" fill="#f6b42c"/><rect x="629.4" y="672" width="17.4" height="3" fill="#fac652"/><text x="638.1" y="688.4" font-size="14" class="b" text-anchor="middle" fill="#ef9f1c">T</text><g stroke="#444" stroke-width="0.55" fill="none"><path d="M659.4 671v22M664 671v22M668.6 671v22M673.2 674v14M655 676.6h14M655 686h17"/><circle cx="655.4" cy="676.6" r="1.6"/><circle cx="655.4" cy="686" r="1.6"/><circle cx="674.4" cy="686" r="1.5"/><rect x="657.6" y="683.6" width="12" height="4.4" rx="2.2"/><path d="M670 675l3 -3M672.5 678h3v5"/></g><text x="636.2" y="710" font-size="7.3" fill="#222" textLength="29.4" lengthAdjust="spacing">I&#916;n 30mA</text><text x="636.2" y="718.4" font-size="7.3" fill="#222" textLength="28" lengthAdjust="spacing">t &#8804; 0.1s</text><rect x="555" y="728" width="122" height="72.4" rx="1.2" fill="#f1f1f2"/><path d="M616.4 730V769" stroke="#3a3c40" stroke-width="0.9"/><rect x="566" y="733" width="40.4" height="36" fill="#fafafa"/><rect x="628.4" y="733" width="39.4" height="36" fill="#fafafa"/><rect x="567.1" y="734.6" width="38.3" height="34" fill="url(#blueH)"/><rect x="567.1" y="734.6" width="38.3" height="1.6" fill="#2463c8"/><rect x="568.1" y="753.6" width="36.3" height="3" fill="#3a86ee"/><rect x="630" y="734.6" width="36.7" height="34" fill="url(#blueH)"/><rect x="630" y="734.6" width="36.7" height="1.6" fill="#2463c8"/><rect x="631" y="753.6" width="34.7" height="3" fill="#3a86ee"/><path d="M560 768.3H672.5V796.5Q672.5 798.6 670.5 798.6H562Q560 798.6 560 796.5Z" fill="url(#blueB)"/><rect x="596" y="791.2" width="14.3" height="6" fill="#2468d6"/><rect x="623.9" y="791.2" width="15" height="6" fill="#2468d6"/><path d="M596 791.2H610.3M623.9 791.2H638.9" stroke="#5a9cf4" stroke-width="0.8"/><rect x="556.6" y="799.6" width="114.6" height="55" rx="1.5" fill="#ebecec"/><rect x="556.6" y="799.6" width="114.6" height="3" fill="#dfe0e2"/><path d="M614.8 800V854.6" stroke="#cdced1" stroke-width="1.3"/><path d="M586.6 844V854M645 844V854" stroke="#dcdde0" stroke-width="0.8"/><circle cx="584.6" cy="829.6" r="14.21" fill="#f8f8f8" stroke="#e1e2e4" stroke-width="0.9"/><circle cx="584.6" cy="829.6" r="9.22" fill="#c9ccd0"/><circle cx="584.6" cy="829.6" r="8.57" fill="url(#metalW)"/><path d="M579.45 836.68A8.76 8.76 0 0 1 580.31 821.97" stroke="#8d9298" stroke-width="1.29" fill="none" stroke-linecap="round" opacity="0.85"/><path d="M585.08 832.14L585.93 836.67M582.06 830.08L577.53 830.93M584.12 827.06L583.27 822.53M587.14 829.12L591.67 828.27" stroke="#f4f8fa" stroke-width="1.20" stroke-linecap="round" fill="none" opacity="0.9"/><path d="M584.6 829.6L589.01 832.62M584.6 829.6L581.58 834.01M584.6 829.6L580.19 826.58M584.6 829.6L587.62 825.19" stroke="#9aa0a6" stroke-width="2.40" stroke-linecap="round" fill="none"/><circle cx="584.6" cy="829.6" r="1.47" fill="#3d5058" opacity="0.8"/><circle cx="644" cy="829.6" r="14.21" fill="#f8f8f8" stroke="#e1e2e4" stroke-width="0.9"/><circle cx="644" cy="829.6" r="9.22" fill="#c9ccd0"/><circle cx="644" cy="829.6" r="8.57" fill="url(#metalW)"/><path d="M638.85 836.68A8.76 8.76 0 0 1 639.71 821.97" stroke="#8d9298" stroke-width="1.29" fill="none" stroke-linecap="round" opacity="0.85"/><path d="M644.48 832.14L645.33 836.67M641.46 830.08L636.93 830.93M643.52 827.06L642.67 822.53M646.54 829.12L651.07 828.27" stroke="#f4f8fa" stroke-width="1.20" stroke-linecap="round" fill="none" opacity="0.9"/><path d="M644 829.6L648.41 832.62M644 829.6L640.98 834.01M644 829.6L639.59 826.58M644 829.6L647.02 825.19" stroke="#9aa0a6" stroke-width="2.40" stroke-linecap="round" fill="none"/><circle cx="644" cy="829.6" r="1.47" fill="#3d5058" opacity="0.8"/>
<g fill="none" stroke-width="4.3" stroke-linejoin="miter"><path d="M280.6 797V856.2H370.1V552.5H488.2V587" stroke="#ee0a14"/><path d="M157.2 539V611.5" stroke="#ee0a14"/><path d="M320.9 797V845.6H356.2V536.9H421.8V587" stroke="#0b22a0"/><path d="M421.5 857.4V877H541.6V553H641.9V612.5" stroke="#0b22a0"/><path d="M488.3 857.4V863H529.5V538.6H584.1V612.5" stroke="#ee0a14"/><path d="M210.1 539V611.5" stroke="#0b22a0"/><path d="M584.6 832V882.5" stroke="#ee0a14"/><path d="M642.9 832V882.5" stroke="#0b22a0"/></g>
<text x="152" y="531" font-size="28.3" class="b" fill="#ee0a14" textLength="14.9" lengthAdjust="spacingAndGlyphs">L</text><text x="200.7" y="531" font-size="28.3" class="b" fill="#0b22a0" textLength="19" lengthAdjust="spacingAndGlyphs">N</text><text x="576.2" y="909.2" font-size="28.3" class="b" fill="#ee0a14" textLength="14.9" lengthAdjust="spacingAndGlyphs">L</text><text x="632.7" y="909.2" font-size="28.3" class="b" fill="#0b22a0" textLength="19" lengthAdjust="spacingAndGlyphs">N</text>
</svg></body></html>
